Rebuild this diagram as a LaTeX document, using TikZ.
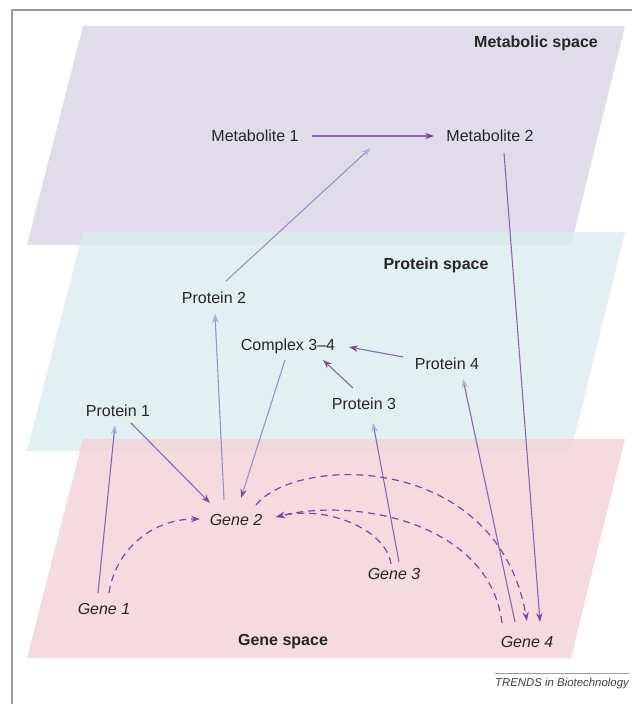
\documentclass[tikz,border=0pt]{standalone}
\usepackage{fontspec}
\setmainfont{Liberation Sans}
\usepackage{tikz}
\usetikzlibrary{arrows.meta,calc}
\definecolor{metafill}{HTML}{E0DCEC}
\definecolor{protfill}{HTML}{DCEDEE}
\definecolor{genefill}{HTML}{F3D5DB}
\definecolor{lavline}{HTML}{9A92C4}
\definecolor{lavhead}{HTML}{B3ADDA}
\definecolor{purpline}{HTML}{8868AE}
\definecolor{purphead}{HTML}{7B4A9E}
\definecolor{framegray}{HTML}{9C9C9C}
\tikzstyle{txt} = [inner sep=0pt,text=black!85,font=\fontsize{8}{9.6}\selectfont]
\tikzstyle{gene} = [txt,font=\fontsize{8}{9.6}\selectfont\itshape]
\tikzstyle{spacename} = [txt,font=\fontsize{8}{9.6}\selectfont\bfseries]
\tikzstyle{trends} = [txt,text=black!75,font=\fontsize{5.7}{7}\selectfont\itshape]
\tikzstyle{expr} = [draw=lavline,line width=0.55pt,-{Stealth[length=4.5pt,width=3.2pt,color=lavhead]}]
\tikzstyle{regul} = [draw=purpline,line width=0.55pt,-{Stealth[length=4.5pt,width=3.2pt,color=purphead]}]
\tikzstyle{feedback} = [draw=purphead,line width=0.6pt,dash pattern=on 3.5pt off 2.5pt,-{Stealth[length=4.5pt,width=3.2pt]}]

\begin{document}
\begin{tikzpicture}[x=0.5pt,y=-0.5pt]
	\useasboundingbox (0,0) rectangle (632,704);
	
	%Planes
	\draw[framegray,line width=0.75pt] (12,704) -- (12,10) -- (632,10);
	\fill[metafill] (83,26) -- (625,26) -- (571,245) -- (27,245) -- cycle;
	\fill[protfill,opacity=0.85] (83,232) -- (625,232) -- (571,451) -- (27,451) -- cycle;
	\fill[genefill,opacity=0.85] (83,439) -- (625,439) -- (571,658) -- (27,658) -- cycle;
	
	%Nodes
	\node[spacename] (metaspace) at (536,43) {Metabolic space};
	\node[txt] (met1) at (255,136) {Metabolite 1};
	\node[txt] (met2) at (490,136) {Metabolite 2};
	\node[spacename] (protspace) at (436,265) {Protein space};
	\node[txt] (prot2) at (214,298) {Protein 2};
	\node[txt] (cplx) at (288,346) {Complex 3--4};
	\node[txt] (prot4) at (447,364) {Protein 4};
	\node[txt] (prot3) at (364,404) {Protein 3};
	\node[txt] (prot1) at (118,411) {Protein 1};
	\node[gene] (gene2) at (236,520) {Gene 2};
	\node[gene] (gene3) at (394,574) {Gene 3};
	\node[gene] (gene1) at (104,609) {Gene 1};
	\node[spacename] (genespace) at (283,642) {Gene space};
	\node[gene] (gene4) at (527,642) {Gene 4};
	\node[trends] (trends) at (562,684) {TRENDS in Biotechnology};
	\coordinate (catal) at ($(met1)!0.5!(met2)+(-2,12)$);
	
	%Lines
	\draw[regul] ($(met1)+(57,0)$) -- ($(met2)+(-56,0)$);
	\draw[expr] ($(prot2)+(12,-17)$) -- (catal);
	\draw[regul] ($(met2)+(14,17)$) -- ($(gene4)+(13,-20)$);
	\draw[expr] ($(gene2)+(-12,-20)$) -- ($(prot2)+(1,16)$);
	\draw[regul,draw=lavline] ($(cplx)+(-3,14)$) -- ($(gene2)+(5,-22)$);
	\draw[regul] ($(prot1)+(13,12)$) -- ($(gene2)+(-26,-17)$);
	\draw[expr,draw=purpline] ($(gene1)+(-6,-16)$) -- ($(prot1)+(-3,14)$);
	\draw[regul] ($(prot3)+(-11,-16)$) -- ($(cplx)+(35,14)$);
	\draw[regul] ($(prot4)+(-44,-7)$) -- ($(cplx)+(61,1)$);
	\draw[expr,draw=purpline] ($(gene3)+(5,-12)$) -- ($(prot3)+(9,19)$);
	\draw[expr,draw=purpline] ($(gene4)+(-12,-20)$) -- ($(prot4)+(16,15)$);
	\draw[framegray,line width=0.5pt] ([yshift=2.5pt]trends.north west) -- ([yshift=2.5pt]trends.north east);
	
	%Feedback
	\draw[feedback] ($(gene1)+(5,-16)$) .. controls +(6,-41) and +(-50,0) .. ($(gene2)+(-36,-1)$);
	\draw[feedback] ($(gene2)+(20,-15)$) .. controls +(40,-50) and +(-30,-170) .. ($(gene4)+(0,-21)$);
	\draw[feedback] ($(gene4)+(-25,-19)$) .. controls +(-12,-100) and +(80,-20) .. ($(gene2)+(40,-3)$);
	\draw[feedback] ($(gene3)+(-3,-10)$) .. controls +(-5,-35) and +(50,-12) .. ($(gene2)+(40,-3)$);
\end{tikzpicture}
\end{document}
